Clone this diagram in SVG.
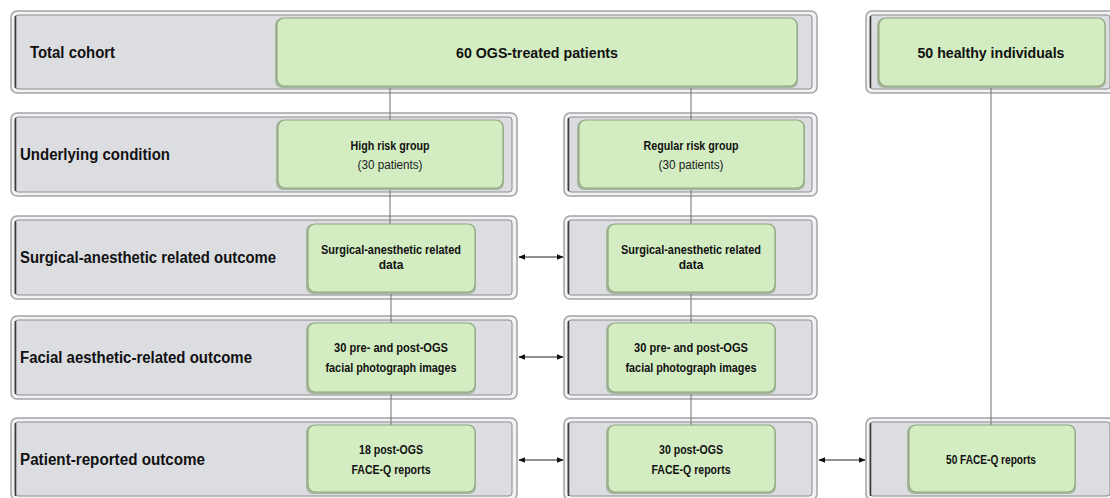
<svg xmlns="http://www.w3.org/2000/svg" width="1110" height="498" viewBox="0 0 1110 498">
<style>
.frame-o{fill:#f2f2f4;stroke:#a4a4a8;stroke-width:1.5}
.frame-i{fill:#dcdde1;stroke:#8c8c90;stroke-width:1}
.frame-l{stroke:#3c3c3c;stroke-width:1.6}
.g{fill:#d3ecc1;stroke:#8fa882;stroke-width:1.2}
.gs{fill:#a9b7a0}
.hd{font-family:"Liberation Sans",Arial,sans-serif;font-weight:bold;font-size:16px;fill:#111}
.t{font-family:"Liberation Sans",Arial,sans-serif;font-weight:bold;font-size:12px;fill:#111;text-anchor:middle}
.tr{font-family:"Liberation Sans",Arial,sans-serif;font-size:12px;fill:#222;text-anchor:middle}
.tb{font-family:"Liberation Sans",Arial,sans-serif;font-weight:bold;font-size:15px;fill:#111;text-anchor:middle}
.c{stroke:#707070;stroke-width:1;fill:none}
.a{stroke:#222;stroke-width:1;fill:none;marker-start:url(#ah);marker-end:url(#ah)}
</style>
<defs>
<marker id="ah" viewBox="0 0 10 10" refX="9" refY="5" markerWidth="7" markerHeight="7" orient="auto-start-reverse" markerUnits="userSpaceOnUse">
<path d="M0,1 L10,5 L0,9 z" fill="#111"/>
</marker>
</defs>
<rect width="1110" height="498" fill="#ffffff"/>

<!-- row frames -->
<g id="frame-r1-left">
<rect class="frame-o" x="11" y="11" width="806" height="82" rx="6"/>
<rect class="frame-i" x="15" y="15" width="797" height="74" rx="3"/>
<line class="frame-l" x1="15.5" y1="16" x2="15.5" y2="88"/>
<text class="hd" x="30" y="58" font-size="15" textLength="85" lengthAdjust="spacingAndGlyphs">Total cohort</text>
</g>
<g id="frame-r1-right">
<rect class="frame-o" x="866" y="11" width="250" height="82" rx="6"/>
<rect class="frame-i" x="870" y="15" width="240" height="74" rx="3"/>
<line class="frame-l" x1="870.5" y1="16" x2="870.5" y2="88"/>
</g>
<g id="frame-r2-left">
<rect class="frame-o" x="11" y="113" width="506" height="83" rx="6"/>
<rect class="frame-i" x="15" y="117" width="497" height="75" rx="3"/>
<line class="frame-l" x1="15.5" y1="118" x2="15.5" y2="191"/>
<text class="hd" x="20" y="160" textLength="150" lengthAdjust="spacingAndGlyphs">Underlying condition</text>
</g>
<g id="frame-r2-right">
<rect class="frame-o" x="564" y="113" width="253" height="83" rx="6"/>
<rect class="frame-i" x="568" y="117" width="244" height="75" rx="3"/>
<line class="frame-l" x1="568.5" y1="118" x2="568.5" y2="191"/>
</g>
<g id="frame-r3-left">
<rect class="frame-o" x="11" y="216" width="506" height="83" rx="6"/>
<rect class="frame-i" x="15" y="220" width="497" height="75" rx="3"/>
<line class="frame-l" x1="15.5" y1="221" x2="15.5" y2="294"/>
<text class="hd" x="20" y="263" textLength="256" lengthAdjust="spacingAndGlyphs">Surgical-anesthetic related outcome</text>
</g>
<g id="frame-r3-right">
<rect class="frame-o" x="564" y="216" width="253" height="83" rx="6"/>
<rect class="frame-i" x="568" y="220" width="244" height="75" rx="3"/>
<line class="frame-l" x1="568.5" y1="221" x2="568.5" y2="294"/>
</g>
<g id="frame-r4-left">
<rect class="frame-o" x="11" y="316" width="506" height="83" rx="6"/>
<rect class="frame-i" x="15" y="320" width="497" height="75" rx="3"/>
<line class="frame-l" x1="15.5" y1="321" x2="15.5" y2="394"/>
<text class="hd" x="20" y="363" textLength="232" lengthAdjust="spacingAndGlyphs">Facial aesthetic-related outcome</text>
</g>
<g id="frame-r4-right">
<rect class="frame-o" x="564" y="316" width="253" height="83" rx="6"/>
<rect class="frame-i" x="568" y="320" width="244" height="75" rx="3"/>
<line class="frame-l" x1="568.5" y1="321" x2="568.5" y2="394"/>
</g>
<g id="frame-r5-left">
<rect class="frame-o" x="11" y="418" width="506" height="82" rx="6"/>
<rect class="frame-i" x="15" y="422" width="497" height="74" rx="3"/>
<line class="frame-l" x1="15.5" y1="423" x2="15.5" y2="496"/>
<text class="hd" x="20" y="465" textLength="185" lengthAdjust="spacingAndGlyphs">Patient-reported outcome</text>
</g>
<g id="frame-r5-mid">
<rect class="frame-o" x="564" y="418" width="253" height="82" rx="6"/>
<rect class="frame-i" x="568" y="422" width="244" height="74" rx="3"/>
<line class="frame-l" x1="568.5" y1="423" x2="568.5" y2="496"/>
</g>
<g id="frame-r5-right">
<rect class="frame-o" x="866" y="418" width="250" height="82" rx="6"/>
<rect class="frame-i" x="870" y="422" width="240" height="74" rx="3"/>
<line class="frame-l" x1="870.5" y1="423" x2="870.5" y2="496"/>
</g>

<!-- connectors -->
<g id="connectors">
<line class="c" x1="390" y1="87" x2="390" y2="120"/>
<line class="c" x1="390" y1="189" x2="390" y2="224"/>
<line class="c" x1="391" y1="293" x2="391" y2="323"/>
<line class="c" x1="391" y1="393" x2="391" y2="425"/>
<line class="c" x1="691" y1="87" x2="691" y2="120"/>
<line class="c" x1="691" y1="189" x2="691" y2="224"/>
<line class="c" x1="691" y1="293" x2="691" y2="323"/>
<line class="c" x1="691" y1="393" x2="691" y2="425"/>
<line class="c" x1="991" y1="87" x2="991" y2="425"/>
<line class="a" x1="519" y1="257" x2="563" y2="257"/>
<line class="a" x1="519" y1="357" x2="563" y2="357"/>
<line class="a" x1="519" y1="460" x2="563" y2="460"/>
<line class="a" x1="819" y1="460" x2="865" y2="460"/>
</g>

<!-- green nodes -->
<g id="n-ogs">
<rect class="gs" x="275" y="18" width="523" height="70" rx="7"/>
<rect class="g" x="277" y="18" width="520" height="68" rx="7"/>
<text class="tb" x="537" y="58" textLength="162" lengthAdjust="spacingAndGlyphs">60 OGS-treated patients</text>
</g>
<g id="n-healthy">
<rect class="gs" x="877" y="18" width="229" height="70" rx="7"/>
<rect class="g" x="879" y="18" width="226" height="68" rx="7"/>
<text class="tb" x="991" y="58" textLength="147" lengthAdjust="spacingAndGlyphs">50 healthy individuals</text>
</g>
<g id="n-high">
<rect class="gs" x="276" y="120" width="228" height="70" rx="7"/>
<rect class="g" x="278" y="120" width="225" height="68" rx="7"/>
<text class="t" x="390" y="150" textLength="79" lengthAdjust="spacingAndGlyphs">High risk group</text>
<text class="tr" x="390" y="169" textLength="65" lengthAdjust="spacingAndGlyphs">(30 patients)</text>
</g>
<g id="n-regular">
<rect class="gs" x="577" y="120" width="228" height="70" rx="7"/>
<rect class="g" x="579" y="120" width="225" height="68" rx="7"/>
<text class="t" x="691" y="150" textLength="95" lengthAdjust="spacingAndGlyphs">Regular risk group</text>
<text class="tr" x="691" y="169" textLength="65" lengthAdjust="spacingAndGlyphs">(30 patients)</text>
</g>
<g id="n-surg-high">
<rect class="gs" x="306" y="224" width="170" height="70" rx="7"/>
<rect class="g" x="308" y="224" width="167" height="68" rx="7"/>
<text class="t" x="391" y="254" textLength="140" lengthAdjust="spacingAndGlyphs">Surgical-anesthetic related</text>
<text class="t" x="391" y="269">data</text>
</g>
<g id="n-surg-reg">
<rect class="gs" x="606" y="224" width="170" height="70" rx="7"/>
<rect class="g" x="608" y="224" width="167" height="68" rx="7"/>
<text class="t" x="691" y="254" textLength="140" lengthAdjust="spacingAndGlyphs">Surgical-anesthetic related</text>
<text class="t" x="691" y="269">data</text>
</g>
<g id="n-face-high">
<rect class="gs" x="306" y="323" width="170" height="71" rx="7"/>
<rect class="g" x="308" y="323" width="167" height="69" rx="7"/>
<text class="t" x="391" y="352" textLength="114" lengthAdjust="spacingAndGlyphs">30 pre- and post-OGS</text>
<text class="t" x="391" y="372" textLength="131" lengthAdjust="spacingAndGlyphs">facial photograph images</text>
</g>
<g id="n-face-reg">
<rect class="gs" x="606" y="323" width="170" height="71" rx="7"/>
<rect class="g" x="608" y="323" width="167" height="69" rx="7"/>
<text class="t" x="691" y="352" textLength="114" lengthAdjust="spacingAndGlyphs">30 pre- and post-OGS</text>
<text class="t" x="691" y="372" textLength="131" lengthAdjust="spacingAndGlyphs">facial photograph images</text>
</g>
<g id="n-faceq-high">
<rect class="gs" x="306" y="425" width="170" height="69" rx="7"/>
<rect class="g" x="308" y="425" width="167" height="67" rx="7"/>
<text class="t" x="391" y="454" textLength="64" lengthAdjust="spacingAndGlyphs">18 post-OGS</text>
<text class="t" x="391" y="474" textLength="79" lengthAdjust="spacingAndGlyphs">FACE-Q reports</text>
</g>
<g id="n-faceq-reg">
<rect class="gs" x="606" y="425" width="170" height="69" rx="7"/>
<rect class="g" x="608" y="425" width="167" height="67" rx="7"/>
<text class="t" x="691" y="454" textLength="64" lengthAdjust="spacingAndGlyphs">30 post-OGS</text>
<text class="t" x="691" y="474" textLength="79" lengthAdjust="spacingAndGlyphs">FACE-Q reports</text>
</g>
<g id="n-faceq-healthy">
<rect class="gs" x="907" y="425" width="169" height="69" rx="7"/>
<rect class="g" x="909" y="425" width="166" height="67" rx="7"/>
<text class="t" x="991" y="464" textLength="90" lengthAdjust="spacingAndGlyphs">50 FACE-Q reports</text>
</g>
</svg>
